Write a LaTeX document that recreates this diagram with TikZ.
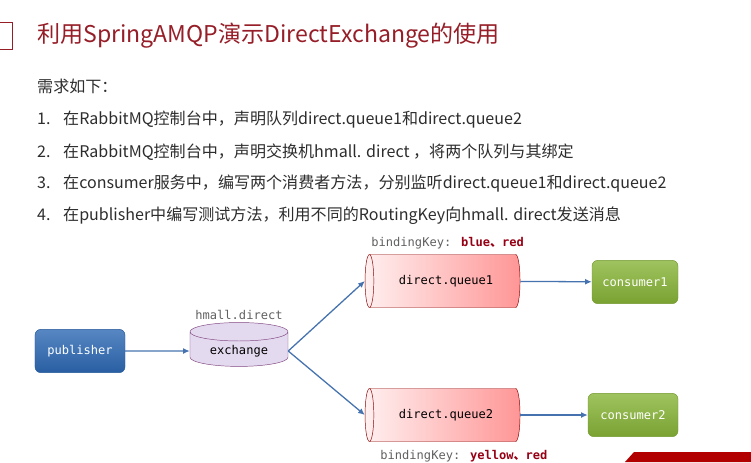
\documentclass[tikz,border=0pt]{standalone}
\usepackage{fontspec}
\usetikzlibrary{arrows.meta,positioning,shapes.geometric}
\newfontfamily\cjk{Noto Sans CJK SC}
\newfontfamily\mono{DejaVu Sans Mono}
\definecolor{titreC}{RGB}{150,30,40}
\definecolor{texteC}{RGB}{45,45,45}
\definecolor{flecheC}{RGB}{70,115,175}
\definecolor{pubC}{RGB}{45,105,180}
\definecolor{consC}{RGB}{135,180,55}
\definecolor{exchC}{RGB}{228,218,240}
\definecolor{queueC}{RGB}{255,150,150}
\definecolor{cleC}{RGB}{150,0,20}
\tikzset{
  svc/.style={rectangle, rounded corners=5pt, top color=#1!80!white, bottom color=#1!90!black,
              draw=#1!85!black, text=white, font=\mono\fontsize{10.3}{12}\selectfont,
              minimum width=2.7cm, minimum height=1.3cm},
  exch/.style={cylinder, shape border rotate=90, aspect=0.28, draw=violet!45!gray, fill=exchC,
               font=\mono\fontsize{10.3}{12}\selectfont, minimum width=2.94cm, minimum height=1.14cm},
  file/.style={cylinder, shape border rotate=180, aspect=0.45, draw=red!55!black, left color=red!6,
               right color=queueC, font=\mono\fontsize{10.3}{12}\selectfont,
               minimum width=1.59cm, minimum height=4.65cm},
  arr/.style={-{Latex[length=2mm,width=1.8mm]}, line width=1.1pt, draw=flecheC},
  ligne/.style={anchor=west, font=\cjk\fontsize{13.7}{16}\selectfont, text=texteC, inner sep=0pt},
  etiq/.style={font=\mono\fontsize{10.3}{12}\selectfont, text=gray!75!black, inner sep=1pt},
}

\begin{document}
\begin{tikzpicture}[x=0.03cm, y=-0.03cm]
  \useasboundingbox (0,0) rectangle (751,462);
  \begin{scope}
    \clip (0,0) rectangle (751,462);
    \draw[titreC, line width=0.8pt] (-15,22) rectangle (12,49);
    % bandeau en bas a droite
    \fill[red!70!black] (625,462) -- (634,452) -- (760,452) -- (760,462) -- cycle;
  \end{scope}

  % titre et consignes
  \node[ligne, font=\cjk\fontsize{19.7}{24}\selectfont, text=titreC] (titre) at (37,36)
    {利用SpringAMQP演示DirectExchange的使用};
  \node[ligne] (req) at (37,86) {需求如下：};
  \node[ligne] (l1) at (37,120)
    {\makebox[0.78cm][l]{1.}在RabbitMQ控制台中，声明队列direct.queue1和direct.queue2};
  \node[ligne] (l2) at (37,152)
    {\makebox[0.78cm][l]{2.}在RabbitMQ控制台中，声明交换机hmall. direct ，将两个队列与其绑定};
  \node[ligne] (l3) at (37,184)
    {\makebox[0.78cm][l]{3.}在consumer服务中，编写两个消费者方法，分别监听direct.queue1和direct.queue2};
  \node[ligne] (l4) at (37,216)
    {\makebox[0.78cm][l]{4.}在publisher中编写测试方法，利用不同的RoutingKey向hmall. direct发送消息};

  % schema
  \node[svc=pubC] (pub) at (80,351) {publisher};
  \node[exch] (ex) at (239,351) {exchange};
  \node[etiq, above=1pt of ex] (exnom) {hmall.direct};
  \node[file] (q1) at (446,281) {direct.queue1};
  \node[file] (q2) at (446,415) {direct.queue2};
  \node[svc=consC, minimum width=2.58cm] (c1) at (635,282) {consumer1};
  \node[svc=consC] (c2) at (633,415) {consumer2};
  \node[etiq, anchor=west] (k1) at (370,243)
    {bindingKey: \textcolor{cleC}{\bfseries blue{\cjk 、}red}};
  \node[etiq, anchor=west] (k2) at (379,456)
    {bindingKey: \textcolor{cleC}{\bfseries yellow{\cjk 、}red}};

  \draw[arr] (pub) -- (ex);
  \draw[arr] (ex.east) -- (q1.west);
  \draw[arr] (ex.east) -- (q2.west);
  \draw[arr] (q1) -- (c1);
  \draw[arr] (q2) -- (c2);
\end{tikzpicture}
\end{document}
